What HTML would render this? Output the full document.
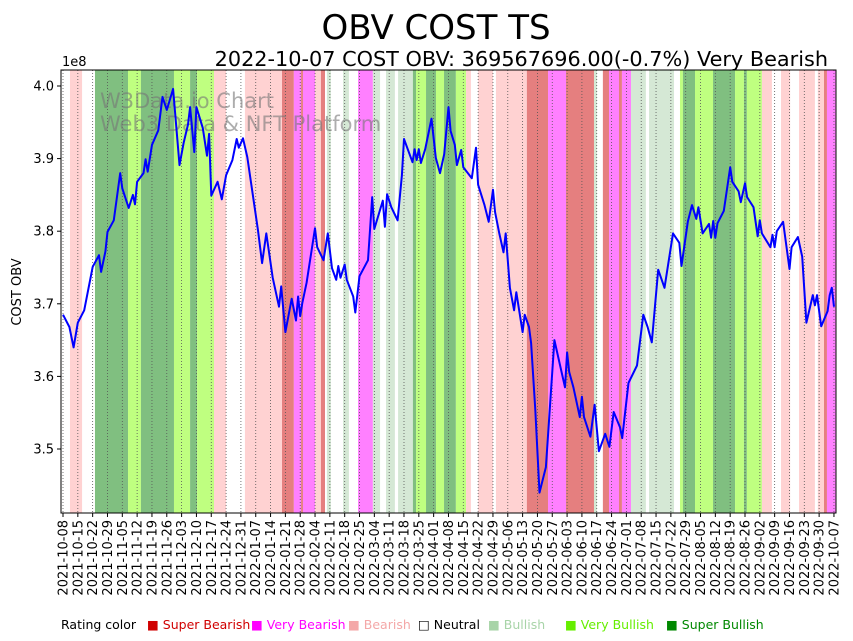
<!DOCTYPE html>
<html><head><meta charset="utf-8"><style>
html,body{margin:0;padding:0;background:#fff;width:853px;height:641px;overflow:hidden}
svg text{font-family:"DejaVu Sans","Liberation Sans",sans-serif}
</style></head><body>
<svg id="chart" width="853" height="641" viewBox="0 0 853 641" xmlns="http://www.w3.org/2000/svg">
<text x="436" y="39" font-size="34" text-anchor="middle">OBV COST TS</text>
<text x="828" y="66" font-size="20.8" text-anchor="end">2022-10-07 COST OBV: 369567696.00(-0.7%) Very Bearish</text>
<text x="62" y="66" font-size="13">1e8</text>
<text transform="translate(21,292) rotate(-90)" font-size="13" text-anchor="middle">COST OBV</text>
<g id="bands"></g>
<g id="grid"></g>
<text x="100" y="108" font-size="21" fill="#777" fill-opacity="0.6">W3Data.io Chart</text>
<text x="100" y="131" font-size="21" fill="#777" fill-opacity="0.6">Web3 Data &amp; NFT Platform</text>
<path id="obvline" fill="none" stroke="#0000ff" stroke-width="2" stroke-linejoin="round"/>
<g id="axes"></g>
<g font-size="12.5">
<text x="61" y="629">Rating color</text>
<text x="147" y="629" fill="#d00000">■ Super Bearish</text>
<text x="251" y="629" fill="#ff00ff">■ Very Bearish</text>
<text x="348" y="629" fill="#f4a8a8">■ Bearish</text>
<text x="418" y="629" fill="#000">□ Neutral</text>
<text x="488" y="629" fill="#a8d4a8">■ Bullish</text>
<text x="565" y="629" fill="#66ee00">■ Very Bullish</text>
<text x="666" y="629" fill="#008800">■ Super Bullish</text>
</g>
</svg>
<script>
const startDate = "2021-10-08";
const days = [0,3,5,7,10,14,17,18,20,21,24,27,28,31,33,34,35,38,39,40,42,45,47,49,52,55,57,59,60,62,63,66,68,69,70,73,75,77,80,82,83,85,87,92,94,96,99,102,103,105,108,110,111,112,113,115,119,120,123,125,127,129,130,131,133,134,137,138,140,144,146,147,151,152,153,155,158,160,161,165,166,167,168,169,171,174,176,178,180,182,183,185,186,188,189,193,195,196,199,201,203,204,206,208,209,211,213,214,217,218,220,221,223,225,228,232,237,238,239,241,244,245,246,249,251,253,256,258,260,263,264,267,271,274,276,278,281,284,288,291,292,295,297,299,300,302,305,306,307,308,309,312,315,316,319,320,322,323,326,328,329,330,334,335,336,337,340,343,344,347,349,351,354,355,356,358,361,362,363,364];
const obv = [3.685,3.668,3.640,3.674,3.691,3.751,3.767,3.744,3.772,3.799,3.815,3.880,3.859,3.832,3.850,3.837,3.868,3.880,3.899,3.882,3.919,3.939,3.985,3.967,3.996,3.891,3.922,3.947,3.971,3.909,3.971,3.942,3.904,3.934,3.849,3.868,3.844,3.877,3.898,3.927,3.915,3.928,3.902,3.802,3.756,3.797,3.736,3.696,3.724,3.661,3.707,3.677,3.710,3.683,3.701,3.729,3.804,3.778,3.760,3.797,3.749,3.733,3.752,3.736,3.754,3.733,3.710,3.688,3.738,3.760,3.847,3.803,3.842,3.806,3.851,3.833,3.815,3.877,3.927,3.895,3.913,3.898,3.913,3.894,3.913,3.955,3.901,3.880,3.906,3.971,3.938,3.919,3.891,3.912,3.888,3.873,3.915,3.864,3.836,3.813,3.857,3.826,3.797,3.771,3.797,3.722,3.691,3.716,3.661,3.685,3.668,3.646,3.554,3.440,3.475,3.650,3.585,3.633,3.606,3.585,3.544,3.572,3.544,3.517,3.561,3.497,3.521,3.503,3.551,3.530,3.515,3.591,3.615,3.685,3.668,3.647,3.747,3.722,3.797,3.784,3.752,3.813,3.836,3.817,3.833,3.797,3.810,3.791,3.814,3.791,3.811,3.828,3.888,3.868,3.855,3.840,3.866,3.847,3.833,3.793,3.815,3.797,3.778,3.795,3.778,3.800,3.813,3.748,3.778,3.792,3.765,3.674,3.712,3.698,3.712,3.669,3.690,3.712,3.722,3.696];
const bandStart = [3.3,15.1,30.7,36.8,52.4,60,63.3,71.3,85.9,103.4,109,112.4,113.3,119,121.8,124.6,132.2,139.3,146.3,152.5,158.2,165.2,166.7,171.4,176.1,179.9,185.5,190.3,196,204.4,219,229,237.5,250.7,254.9,257.8,262.5,263.9,268.2,276.7,291.3,292.7,298.4,306.9,317.3,321.5,322.9,330,339,347.5,356.4,359.3,360.7];
const bandEnd = [9,30.7,36.8,52.4,60,63.3,71.3,77,103.4,109,112.4,113.3,119,121.8,123.7,126.5,135,146.3,149.7,156.7,165.2,166.7,171.4,176.1,179.9,185.5,190.3,192.6,203,219,229,237.5,250.7,252.1,257.8,262.5,263.9,268.2,275.2,288.5,292.7,298.4,306.9,317.3,321.5,322.9,330,334.7,343.3,355,359.3,360.7,365];
const bandRating = ["B","SU","VU","SU","VU","SU","VU","B","B","SB","VB","SB","VB","B","SB","U","U","VB","U","U","U","SU","VU","SU","VU","SU","VU","B","B","B","SB","VB","SB","U","SB","VB","SB","VB","U","U","VU","SU","VU","SU","VU","SU","VU","B","B","B","B","SB","VB"];
const yTicks = [3.5,3.6,3.7,3.8,3.9,4.0];
const ratingColor = {SB:"#e57f7f",VB:"#ff80ff",B:"#ffd2d2",U:"#d5e8d5",VU:"#bfff80",SU:"#80bf80"};
const X0=61,X1=836,Y0=70,Y1=513;
const xs = d => 63 + d*2.118;
const ys = v => 86 + (4.0 - v)*726;
const NS="http://www.w3.org/2000/svg";
function mk(tag, attrs, parent){const e=document.createElementNS(NS,tag);for(const k in attrs)e.setAttribute(k,attrs[k]);parent.appendChild(e);return e;}
const bands=document.getElementById('bands');
for(let i=0;i<bandStart.length;i++){
  const a=Math.max(X0,xs(bandStart[i])), b=Math.min(X1,xs(bandEnd[i]));
  const r=mk('rect',{x:a,y:Y0,width:Math.max(0,b-a),height:Y1-Y0,fill:ratingColor[bandRating[i]]},bands);
  
  
}
const grid=document.getElementById('grid'), axes=document.getElementById('axes');
const sd=new Date(startDate+"T00:00:00Z");
for(let d=0; d<=364; d+=7){
  const x=xs(d);
  const g=mk('line',{x1:x,x2:x,y1:Y0,y2:Y1,stroke:"#555","stroke-width":0.8,"stroke-dasharray":"1,2"},grid);
  
  
  mk('line',{x1:x,x2:x,y1:Y1,y2:Y1+4,stroke:"#000","stroke-width":1},axes);
  const dt=new Date(sd.getTime()+d*86400000);
  const t=mk('text',{transform:`translate(${x+4.5},${Y1+7}) rotate(-90)`,"font-size":13,"text-anchor":"end"},axes);
  t.textContent=dt.toISOString().slice(0,10);
  
  
}
for(const v of yTicks){
  const y=ys(v);
  mk('line',{x1:X0-4,x2:X0,y1:y,y2:y,stroke:"#000","stroke-width":1},axes);
  const t=mk('text',{x:X0-7,y:y+4.5,"font-size":13,"text-anchor":"end"},axes);
  t.textContent=v.toFixed(1);
  
  
}
const fr=mk('rect',{x:X0,y:Y0,width:X1-X0,height:Y1-Y0,fill:"none",stroke:"#000","stroke-width":1},axes);


const n=Math.min(days.length,obv.length);
let p="";
for(let i=0;i<n;i++){p+=(i?"L":"M")+xs(days[i]).toFixed(1)+","+ys(obv[i]).toFixed(1);}
document.getElementById('obvline').setAttribute('d',p);
</script>
</body></html>
